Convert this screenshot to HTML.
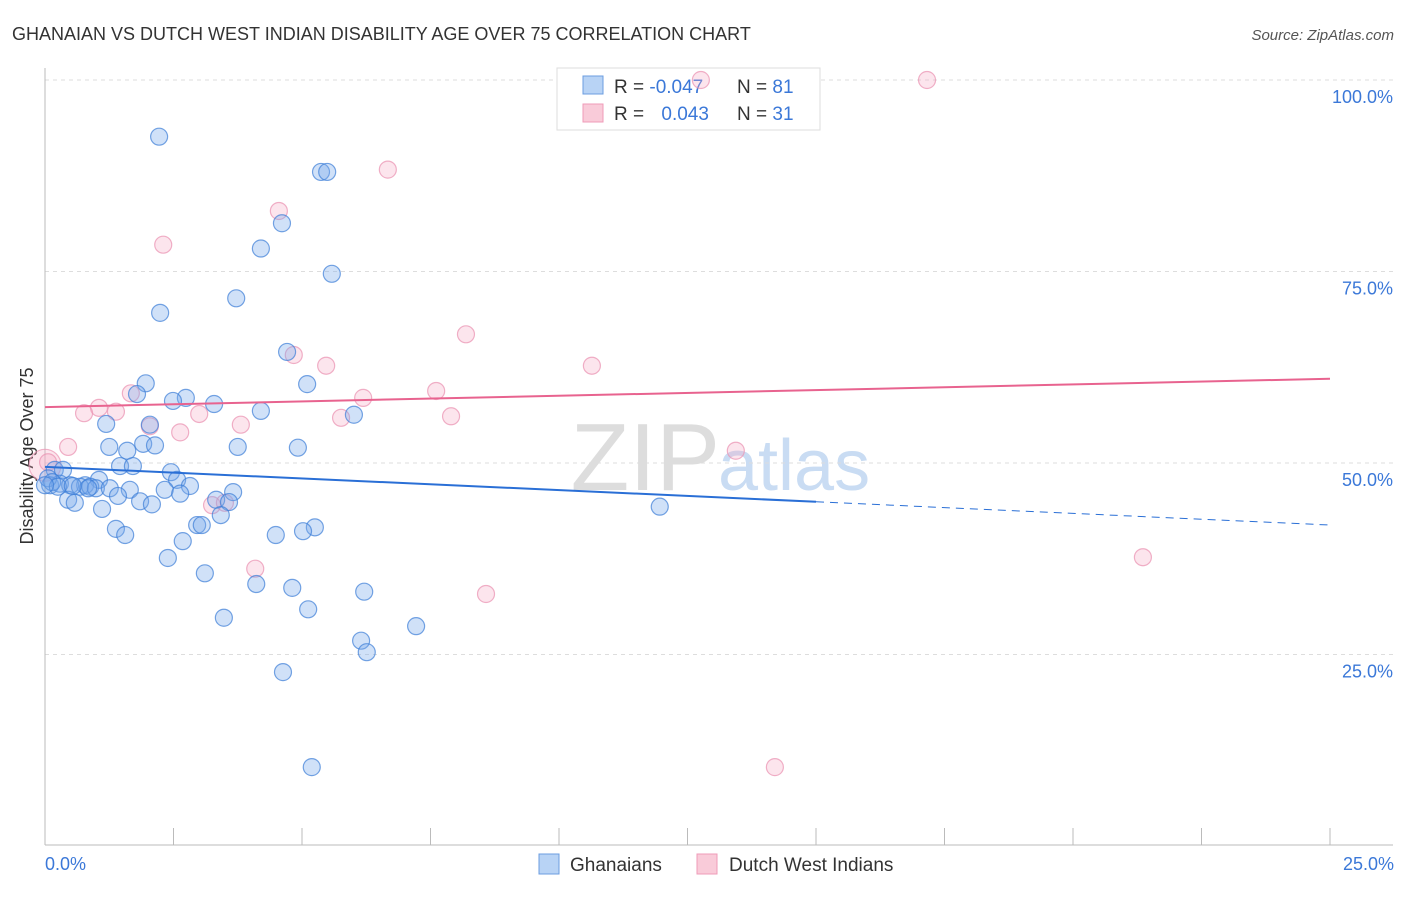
<!DOCTYPE html>
<html><head><meta charset="utf-8"><style>
body{margin:0;background:#fff;font-family:"Liberation Sans",sans-serif;}
svg text{font-family:"Liberation Sans",sans-serif;}
</style></head><body>
<svg id="c" width="1406" height="892" xmlns="http://www.w3.org/2000/svg">
<text x="12" y="40" font-size="18" fill="#333">GHANAIAN VS DUTCH WEST INDIAN DISABILITY AGE OVER 75 CORRELATION CHART</text>
<text x="1394" y="40" font-size="15" fill="#555" font-style="italic" text-anchor="end">Source: ZipAtlas.com</text>
<text x="720" y="490" font-size="96" fill="#ddd" text-anchor="end" font-family="Liberation Serif">ZIP</text>
<text x="718" y="490" font-size="72" fill="#c9dcf3">atlas</text>
<g id="grid"></g>
<line x1="45" y1="68" x2="45" y2="845" stroke="#bbb"/>
<line x1="45" y1="845" x2="1393" y2="845" stroke="#bbb"/>
<text transform="translate(33,456) rotate(-90)" font-size="18" fill="#333" text-anchor="middle">Disability Age Over 75</text>
<text x="45" y="870" font-size="18" fill="#3b78d8">0.0%</text>
<text x="1394" y="870" font-size="18" fill="#3b78d8" text-anchor="end">25.0%</text>
<g>
<rect x="557" y="68" width="263" height="62" fill="#fff" stroke="#ddd"/>
<rect x="583" y="76" width="20" height="18" fill="#b8d3f5" stroke="#6b9de0"/>
<rect x="583" y="104" width="20" height="18" fill="#f9cbd9" stroke="#ef9bb8"/>
<text x="614" y="93" font-size="19" fill="#333">R = <tspan fill="#3b78d8">-0.047</tspan></text>
<text x="737" y="93" font-size="19" fill="#333">N = <tspan fill="#3b78d8">81</tspan></text>
<text x="614" y="120" font-size="19" fill="#333">R = <tspan fill="#3b78d8" dx="12">0.043</tspan></text>
<text x="737" y="120" font-size="19" fill="#333">N = <tspan fill="#3b78d8">31</tspan></text>
</g>
<g id="marks"></g>
<g>
<rect x="539" y="854" width="20" height="20" fill="#b8d3f5" stroke="#6b9de0"/>
<text x="570" y="871" font-size="19" fill="#333">Ghanaians</text>
<rect x="697" y="854" width="20" height="20" fill="#f9cbd9" stroke="#ef9bb8"/>
<text x="729" y="871" font-size="19" fill="#333">Dutch West Indians</text>
</g>
</svg>
<script>
const yTicks=[25,50,75,100];
const yTickLabels=["25.0%","50.0%","75.0%","100.0%"];
const xTickCount=10;
const blueX=[2.22,5.37,5.49,4.61,4.20,5.58,3.72,2.24,4.71,1.96,5.10,1.79,2.74,2.49,3.29,4.20,6.01,1.19,2.04,1.25,1.91,2.14,3.75,4.92,1.60,1.46,1.71,2.45,0.19,0.35,2.57,1.05,0.78,0.10,0.29,0.49,0.68,0.88,0.99,1.26,1.65,2.33,2.82,3.66,2.63,1.42,0.45,0.58,1.85,2.08,3.33,3.58,1.11,3.42,2.96,3.05,5.25,5.02,1.38,1.56,2.68,4.49,2.39,3.11,4.11,4.81,6.21,5.12,3.48,7.22,6.15,6.26,4.63,5.19,11.96,0.06,0.14,0.25,0.00,0.84,0.54];
const blueY=[92.6,88.0,88.0,81.3,78.0,74.7,71.5,69.6,64.5,60.4,60.3,59.0,58.5,58.1,57.7,56.8,56.3,55.1,55.0,52.1,52.5,52.3,52.1,52.0,51.6,49.6,49.6,48.8,49.1,49.1,47.8,47.8,47.1,47.1,47.3,47.1,46.9,46.9,46.7,46.7,46.5,46.5,47.0,46.2,46.0,45.7,45.2,44.8,45.0,44.6,45.2,44.9,44.0,43.2,41.9,41.9,41.6,41.1,41.4,40.6,39.8,40.6,37.6,35.6,34.2,33.7,33.2,30.9,29.8,28.7,26.8,25.3,22.7,10.3,44.3,48.0,47.5,46.9,47.1,46.7,47.0];
const pinkX=[12.76,17.16,6.67,4.55,2.30,8.19,4.84,5.47,10.64,7.61,1.67,6.19,1.05,1.38,0.76,3.00,7.90,5.76,2.04,3.81,2.63,0.45,13.44,3.25,3.50,4.09,8.58,21.36,14.20,0.06];
const pinkY=[100,100,88.3,82.9,78.5,66.8,64.1,62.7,62.7,59.4,59.1,58.5,57.2,56.7,56.5,56.4,56.1,55.9,54.8,55.0,54.0,52.1,51.6,44.5,44.8,36.2,32.9,37.7,10.3,50.1];
const blueTrend=[49.5,-0.304];
const pinkTrend=[57.3,0.148];
const blueSolidEnd=15;
const X=v=>45+v/25*1285, Y=v=>846-v*7.66;
const NS="http://www.w3.org/2000/svg";
const g=document.getElementById('grid'), m=document.getElementById('marks');
function mk(tag,attrs,parent){const e=document.createElementNS(NS,tag);for(const k in attrs)e.setAttribute(k,attrs[k]);parent.appendChild(e);return e;}
yTicks.forEach((t,i)=>{
 const l=mk('line',{x1:45,x2:1393,y1:Y(t),y2:Y(t),stroke:'#ddd','stroke-dasharray':'4,4'},g);
 
 
 const tx=mk('text',{x:1393,y:Y(t)+23,'font-size':18,fill:'#3b78d8','text-anchor':'end'},g);
 tx.textContent=yTickLabels[i];
 
 
});
for(let i=0;i<=xTickCount;i++){
 const x=X(i*25/xTickCount);
 const l=mk('line',{x1:x,x2:x,y1:828,y2:845,stroke:'#bbb'},g);
 
 
}
function dot(x,y,fill,stroke,r){const c=mk('circle',{cx:X(x),cy:Y(y),r:r,fill:fill,stroke:stroke,'stroke-width':1.2},m);return c;}
const big=dot(0,49.7,'rgba(244,170,195,0.3)','rgba(235,150,180,0.7)',16);


pinkX.forEach((x,i)=>{const c=dot(x,pinkY[i],'rgba(244,170,195,0.3)','rgba(235,150,180,0.75)',8.5);
 
 });
blueX.forEach((x,i)=>{const c=dot(x,blueY[i],'rgba(120,170,235,0.35)','rgba(60,125,215,0.7)',8.5);
 
 });
const bf=x=>blueTrend[0]+blueTrend[1]*x, pf=x=>pinkTrend[0]+pinkTrend[1]*x;
const b1=mk('line',{x1:X(0),y1:Y(bf(0)),x2:X(blueSolidEnd),y2:Y(bf(blueSolidEnd)),stroke:'#2a6fd6','stroke-width':2},m);


const b2=mk('line',{x1:X(blueSolidEnd),y1:Y(bf(blueSolidEnd)),x2:X(25),y2:Y(bf(25)),stroke:'#2a6fd6','stroke-width':1,'stroke-dasharray':'8,6'},m);


const p1=mk('line',{x1:X(0),y1:Y(pf(0)),x2:X(25),y2:Y(pf(25)),stroke:'#e8638f','stroke-width':2},m);


</script>
</body></html>
